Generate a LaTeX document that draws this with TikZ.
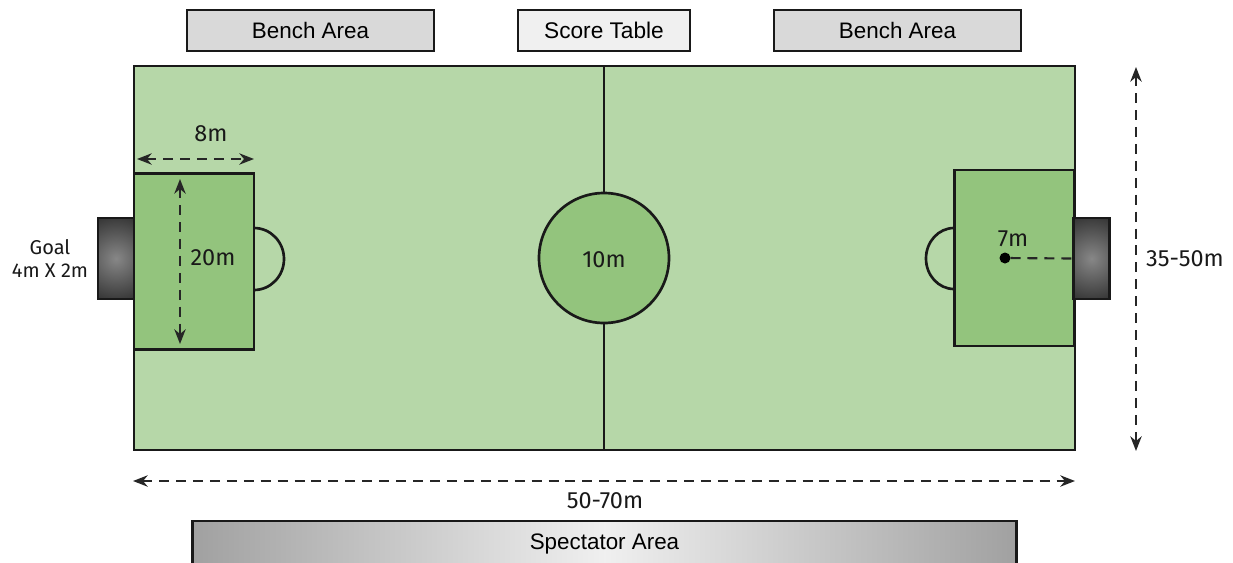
\documentclass[tikz,border=0pt]{standalone}
\usepackage{fontspec}
\setmainfont{Liberation Sans}
\newfontfamily\dimfont{Fira Sans}
\usetikzlibrary{arrows.meta}
\definecolor{fieldgreen}{HTML}{B6D7A8}
\definecolor{boxgreen}{HTML}{93C47D}
\tikzset{
>={Stealth[length=11pt, width=8.5pt, inset=3.5pt]}, % same head on every measure
every node/.style={inner sep=0pt, outer sep=0pt},
line/.style={line width=2pt, draw=black!90},
area/.style={line, rectangle, font=\fontsize{16.8}{20}\selectfont}, % boxes round the field
goalbox/.style={line, rectangle, minimum width=36*0.75pt, minimum height=81*0.75pt,
    path picture={\shade[inner color=black!47, outer color=black!80] (path picture bounding box.center) circle[radius=45];}},
penalty/.style={line, rectangle, fill=boxgreen, minimum width=120*0.75pt, minimum height=176*0.75pt},
measure/.style={<->, line width=1.6pt, draw=black!85, dash pattern=on 7.5pt off 5.2pt},
dim/.style={font=\dimfont\fontsize{17.6}{20}\selectfont, text=black!90},
}
\begin{document}
\begin{tikzpicture}[x=0.75pt, y=-0.75pt]
    \useasboundingbox (0,0) rectangle (1233,562);
    \clip (0,0) rectangle (1233,562);

    % field and what stands round it
    \node[line, rectangle, fill=fieldgreen, minimum width=941*0.75pt, minimum height=384*0.75pt] (field) at (604.5,258) {};
    \node[area, fill=black!15, minimum width=247*0.75pt, minimum height=41*0.75pt] (bench1) at (310.5,30.5) {Bench Area};
    \node[area, fill=black!6, minimum width=172*0.75pt, minimum height=41*0.75pt] (score) at (604,30.5) {\fontsize{17}{20}\selectfont Score Table};
    \node[area, fill=black!15, minimum width=247*0.75pt, minimum height=41*0.75pt] (bench2) at (897.5,30.5) {Bench Area};
    \node[area, left color=black!37, right color=black!37, middle color=black!6, minimum width=824*0.75pt, minimum height=46*0.75pt] (spectator) at (604.5,544) {Spectator Area};

    % half way line and centre circle
    \node[line, circle, fill=boxgreen, minimum size=130*0.75pt] (centre) at (604,258) {};
    \draw[line] (field.north -| centre) -- (centre.north);
    \draw[line] (centre.south) -- (field.south -| centre);
    \node[dim] (centrelabel) at (604,260) {10m};

    % left end
    \coordinate (arcleft1) at (254,228);
    \draw[line] (arcleft1) arc[start angle=-90, end angle=90, x radius=30, y radius=31];
    \node[penalty] (boxleft) at (194,261.5) {};
    \node[goalbox] (goalleft) at (116,258.5) {};
    \node[dim, font=\dimfont\fontsize{15}{17.3}\selectfont, align=center] (goallabel) at (50,258.5) {Goal\\4m X 2m};

    % right end
    \coordinate (arcright1) at (954,228);
    \draw[line] (arcright1) arc[start angle=270, end angle=90, x radius=28, y radius=30.5];
    \node[penalty] (boxright) at (1014.5,258) {};
    \node[goalbox] (goalright) at (1091.5,258.5) {};
    \node[circle, fill=black, minimum size=11*0.75pt] (spot) at (1005,258) {};

    % measures
    \coordinate (a1) at (137,159);
    \coordinate (a2) at (254,159);
    \coordinate (b1) at (180,179);
    \coordinate (b2) at (180,344);
    \coordinate (c1) at (133,481);
    \coordinate (c2) at (1075,481);
    \coordinate (d1) at (1136,67);
    \coordinate (d2) at (1136,451);
    \draw[measure] (a1) -- (a2);
    \draw[measure] (b1) -- (b2);
    \draw[measure] (c1) -- (c2);
    \draw[measure] (d1) -- (d2);
    \draw[measure, -] (spot) -- (goalright.west);

    \node[dim] (widthlabel) at (211,134) {8m};
    \node[dim] (heightlabel) at (213,258) {20m};
    \node[dim] (spotlabel) at (1013,239) {7m};
    \node[dim] (sidelabel) at (1185,259) {35-50m};
    \node[dim] (lengthlabel) at (605,501) {50-70m};
\end{tikzpicture}
\end{document}
